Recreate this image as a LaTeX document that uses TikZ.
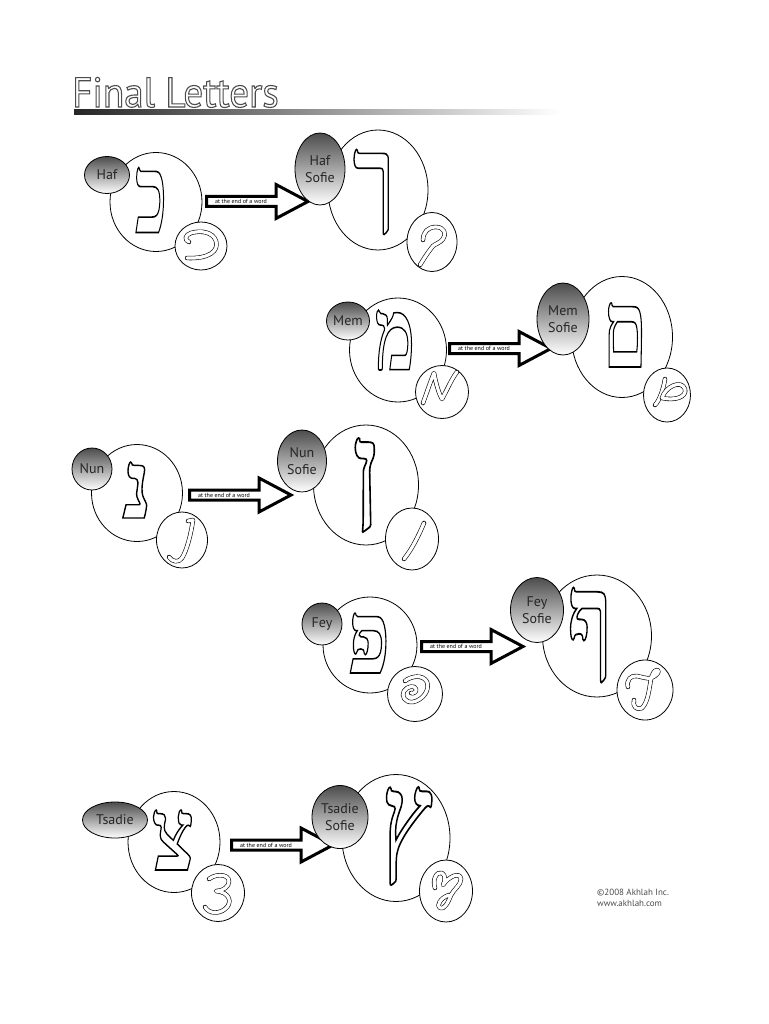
\documentclass[tikz,border=0pt]{standalone}
\usepackage{fontspec}
\setmainfont{PT Sans}
\newfontfamily\hebfont{Liberation Serif}[BoldFont={Liberation Serif Bold}]
\usetikzlibrary{shapes.geometric}
\tikzset{
  ring/.style={draw=black, line width=0.8pt, fill=white, ellipse, inner sep=0pt},
  tag/.style={draw=black, line width=0.8pt, ellipse, inner sep=0pt, top color=black!70, middle color=white, bottom color=white, text=black!85, align=center, font=\fontsize{14}{17}\selectfont},
  glyph/.style={inner sep=0pt},
  cursive/.style={line width=0.6pt, double=white, double distance=3.2pt, line cap=round, line join=round},
  arrowbody/.style={draw=black, fill=white, line width=3pt, line join=miter},
  arrtext/.style={inner sep=0pt, font=\fontsize{6}{7}\selectfont}
}
\newcommand\outl[2]{\special{pdf:literal direct #1 w 1 Tr}#2\special{pdf:literal direct 0 Tr}}
\newcommand\hebl[3]{\resizebox*{#1pt}{#2pt}{\fontsize{100}{100}\selectfont\hebfont\bfseries\outl{1.5}{#3}}}
\newcommand\blkarrow[3]{%
  \draw[arrowbody] (#1+1.5,#2-5) -- (#1+71,#2-5) -- (#1+71,#2-17) -- (#1+103,#2) -- (#1+71,#2+17) -- (#1+71,#2+5) -- (#1+1.5,#2+5) -- cycle;
  \node[arrtext] (#3) at (#1+36,#2) {at the end of a word};}
\begin{document}
\begin{tikzpicture}[x=1pt,y=-1pt]
\useasboundingbox (0,0) rectangle (768,1024);
\fill[white] (0,0) rectangle (768,1024);
% title
\node[anchor=base west, inner sep=0pt] (title) at (72,107) {\color{black!70}\scalebox{0.93}[1]{\fontsize{42}{42}\selectfont\outl{1.1}{Final Letters}}};
\shade[left color=black!85, right color=white] (74,109.5) rectangle (560,115);
% ---------- row 1 : Haf
\node[ring, minimum width=92, minimum height=99] (b1) at (156,202) {};
\node[glyph] (k1) at (151,200) {\hebl{32}{65}{כ}};
\node[ring, minimum width=52, minimum height=48] (s1) at (201,246) {};
\begin{scope}[shift={(s1.center)}]
\draw[cursive] (-12,-4) .. controls (-17,-6) and (-16,-11) .. (-10,-13) .. controls (0,-16) and (12,-14) .. (15,-5) .. controls (18,5) and (8,13) .. (-14,12);
\end{scope}
\node[tag, minimum width=45, minimum height=37] (t1) at (107,175) {Haf};
\blkarrow{205}{201.5}{a1}
\node[ring, minimum width=100, minimum height=120] (B1) at (378,190) {};
\node[glyph] (K1) at (374,192) {\hebl{42}{85}{ך}};
\node[ring, minimum width=50, minimum height=59] (S1) at (432,242) {};
\begin{scope}[shift={(S1.center)}]
\draw[cursive] (-9,-2) .. controls (-9,-10) and (-4,-15) .. (4,-15) .. controls (12,-15) and (15,-8) .. (11,-3) .. controls (8,1) and (3,2) .. (1,4) .. controls (-4,10) and (-9,18) .. (-12,23);
\end{scope}
\node[tag, minimum width=50, minimum height=72] (T1) at (320,169) {Haf\\Sofie};
% ---------- row 2 : Mem
\node[ring, minimum width=97, minimum height=104] (b2) at (398,350) {};
\node[glyph] (k2) at (395,340) {\hebl{40}{60}{מ}};
\node[ring, minimum width=53, minimum height=53] (s2) at (442,392) {};
\begin{scope}[shift={(s2.center)}]
\draw[cursive] (-19,11) .. controls (-15,0) and (-11,-12) .. (-8,-19) .. controls (-6,-8) and (-3,2) .. (0,7) .. controls (5,-2) and (10,-14) .. (15,-20);
\end{scope}
\node[tag, minimum width=43, minimum height=38] (t2) at (348,321) {Mem};
\blkarrow{448}{348.5}{a2}
\node[ring, minimum width=101, minimum height=121] (B2) at (622,337) {};
\node[glyph] (K2) at (625,335) {\hebl{44}{64}{ם}};
\node[ring, minimum width=47, minimum height=54] (S2) at (667,395) {};
\begin{scope}[shift={(S2.center)}]
\draw[cursive] (-2,-16) .. controls (-4,-4) and (-8,6) .. (-12,10);
\draw[cursive] (-5,3) .. controls (-2,-8) and (14,-16) .. (18,-6) .. controls (20,2) and (8,6) .. (-5,3);
\end{scope}
\node[tag, minimum width=52, minimum height=72] (T2) at (563,319) {Mem\\Sofie};
% ---------- row 3 : Nun
\node[ring, minimum width=91, minimum height=97] (b3) at (137,493) {};
\node[glyph] (k3) at (137,490) {\hebl{30}{56}{נ}};
\node[ring, minimum width=51, minimum height=56] (s3) at (182,540) {};
\begin{scope}[shift={(s3.center)}]
\draw[cursive] (6,-19) -- (11,-20) .. controls (9,-6) and (5,10) .. (0,18) .. controls (-3,23) and (-10,22) .. (-13,17);
\end{scope}
\node[tag, minimum width=40, minimum height=42] (t3) at (92,469) {Nun};
\blkarrow{188}{495}{a3}
\node[ring, minimum width=105, minimum height=120] (B3) at (366,485) {};
\node[glyph] (K3) at (366,485) {\hebl{27}{94}{ן}};
\node[ring, minimum width=53, minimum height=62] (S3) at (412,539) {};
\begin{scope}[shift={(S3.center)}]
\draw[cursive] (12,-16) .. controls (6,-2) and (0,10) .. (-8,20);
\end{scope}
\node[tag, minimum width=49, minimum height=62] (T3) at (302,461) {Nun\\Sofie};
% ---------- row 4 : Fey
\node[ring, minimum width=94, minimum height=96] (b4) at (370,645) {};
\node[glyph] (k4) at (369,643) {\hebl{42}{60}{פ}};
\node[ring, minimum width=55, minimum height=55] (s4) at (415,694) {};
\begin{scope}[shift={(s4.center)}]
\draw[cursive] (-10,-13) .. controls (-4,-18) and (8,-20) .. (12,-12) .. controls (15,-4) and (8,6) .. (-2,8) .. controls (-10,9) and (-14,2) .. (-11,-3) .. controls (-8,-8) and (0,-9) .. (1,-5) .. controls (2,-2) and (-2,0) .. (-4,-1);
\end{scope}
\node[tag, minimum width=40, minimum height=42] (t4) at (322,624) {Fey};
\blkarrow{420}{646.5}{a4}
\node[ring, minimum width=109, minimum height=122] (B4) at (597,636) {};
\node[glyph] (K4) at (590,635) {\hebl{45}{95}{ף}};
\node[ring, minimum width=56, minimum height=60] (S4) at (645,690) {};
\begin{scope}[shift={(S4.center)}]
\draw[cursive] (-17,-3) .. controls (-19,-10) and (-14,-15) .. (-8,-14) .. controls (-3,-13) and (2,-11) .. (6,-12) .. controls (12,-14) and (16,-20) .. (12,-20) .. controls (9,-20) and (7,-15) .. (6,-11) .. controls (4,0) and (3,12) .. (-3,18) .. controls (-8,21) and (-13,16) .. (-11,10);
\end{scope}
\node[tag, minimum width=53, minimum height=65] (T4) at (537,610) {Fey\\Sofie};
% ---------- row 5 : Tsadie
\node[ring, minimum width=92, minimum height=101] (b5) at (174,842) {};
\node[glyph] (k5) at (173,840) {\hebl{43}{60}{צ}};
\node[ring, minimum width=53, minimum height=57] (s5) at (218,893) {};
\begin{scope}[shift={(s5.center)}]
\draw[cursive] (-9,-14) .. controls (0,-21) and (15,-18) .. (10,-8) .. controls (7,-3) and (1,-2) .. (-2,-2) .. controls (12,-1) and (15,10) .. (7,16) .. controls (1,21) and (-9,21) .. (-13,14);
\end{scope}
\node[tag, minimum width=65, minimum height=36] (t5) at (115,820) {Tsadie};
\blkarrow{230}{845}{a5}
\node[ring, minimum width=108, minimum height=127] (B5) at (396,838) {};
\node[glyph] (K5) at (407,836) {\hebl{51}{98}{ץ}};
\node[ring, minimum width=53, minimum height=62] (S5) at (446,891) {};
\begin{scope}[shift={(S5.center)}]
\draw[cursive] (-11,-3) .. controls (-14,-12) and (-9,-20) .. (-4,-18) .. controls (0,-16) and (-1,-9) .. (-3,-6) .. controls (2,-14) and (14,-20) .. (15,-12) .. controls (15,-6) and (8,-2) .. (5,4) .. controls (2,12) and (-2,19) .. (-6,17) .. controls (-10,15) and (-6,7) .. (3,4);
\end{scope}
\node[tag, minimum width=56, minimum height=63] (T5) at (340,817) {Tsadie\\Sofie};
% footer
\node[anchor=north west, align=left, inner sep=0pt, text=black!70, font=\fontsize{9}{11}\selectfont] (foot) at (597,889) {©2008 Akhlah Inc.\\www.akhlah.com};
\end{tikzpicture}
\end{document}
